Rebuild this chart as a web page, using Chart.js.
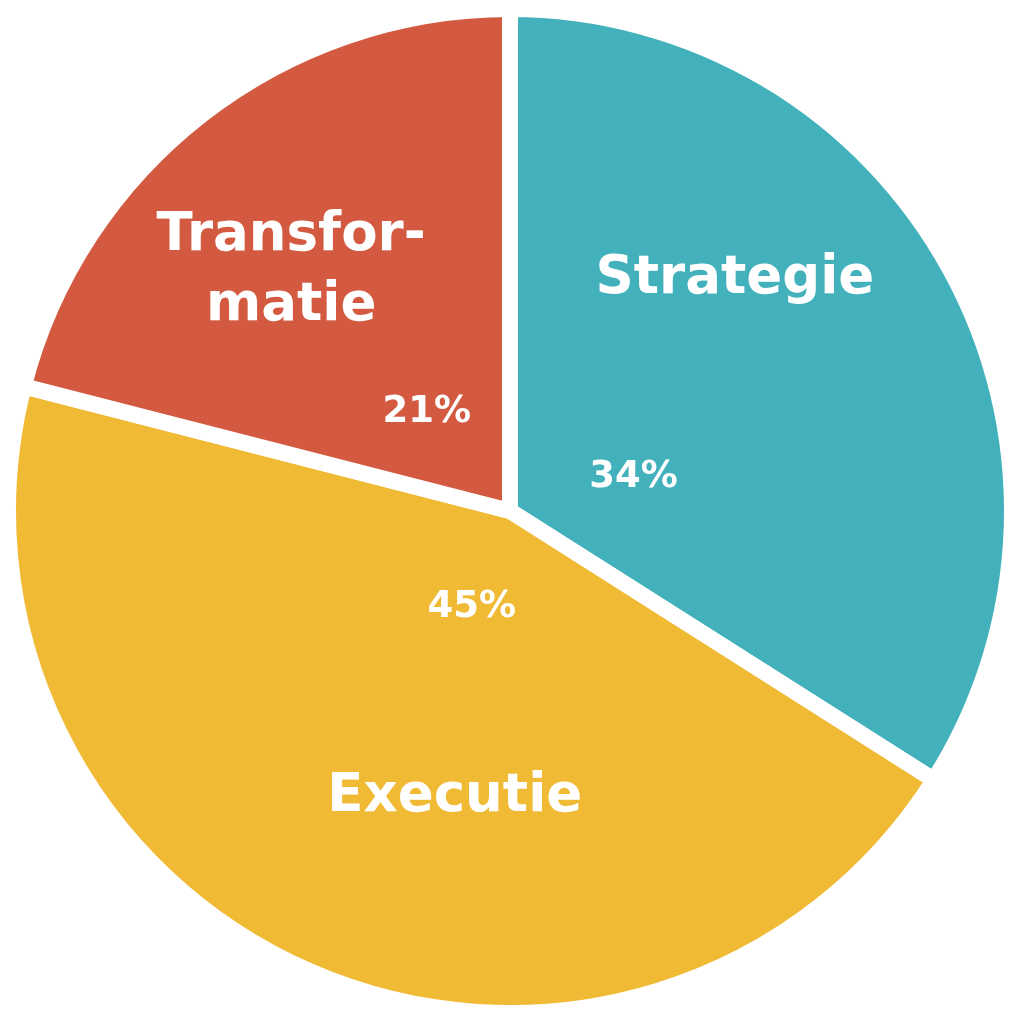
<!DOCTYPE html>
<html>
<head>
<meta charset="utf-8">
<script src="https://cdn.jsdelivr.net/npm/chart.js@4.4.0/dist/chart.umd.min.js"></script>
<style>
  html, body { margin: 0; padding: 0; background: #fff; }
  #wrap { width: 1024px; height: 1024px; }
</style>
</head>
<body>
<div id="wrap"><canvas id="pie"></canvas></div>
<script>
// data
const categories = ['Strategie', 'Executie', 'Transformatie'];
const shares = [34, 45, 21];
const nameLines = [['Strategie'], ['Executie'], ['Transfor-', 'matie']];
const colors = ['#42B1BB', '#F0BA35', '#D35A40'];

// where each label sits, as offset from the pie centre in units of radius
const nameSpot = [[0.448, -0.462], [-0.11, 0.57], [-0.436, -0.478]];
const pctSpot = [[0.246, -0.066], [-0.076, 0.192], [-0.166, -0.196]];

const labelPlugin = {
  id: 'sliceLabels',
  afterDatasetsDraw(chart) {
    const ctx = chart.ctx;
    const arc = chart.getDatasetMeta(0).data[0];
    const cx = arc.x, cy = arc.y, r = arc.outerRadius;
    ctx.save();
    ctx.fillStyle = '#fff';
    ctx.textAlign = 'center';
    ctx.textBaseline = 'middle';
    categories.forEach(function (c, i) {
      const lines = nameLines[i];
      ctx.font = 'bold 53px "DejaVu Sans"';
      const x = cx + nameSpot[i][0] * r;
      const y = cy + nameSpot[i][1] * r;
      const lh = 70;
      lines.forEach(function (t, k) {
        ctx.fillText(t, x, y + (k - (lines.length - 1) / 2) * lh);
      });
      ctx.font = 'bold 37px "DejaVu Sans"';
      ctx.fillText(shares[i] + '%', cx + pctSpot[i][0] * r, cy + pctSpot[i][1] * r);
    });
    ctx.restore();
  }
};

new Chart(document.getElementById('pie'), {
  type: 'pie',
  data: {
    labels: categories,
    datasets: [{
      data: shares,
      backgroundColor: colors,
      borderColor: '#fff',
      borderWidth: 16
    }]
  },
  options: {
    responsive: true,
    maintainAspectRatio: false,
    animation: false,
    layout: { padding: { left: 0, right: 4, top: 0, bottom: 2 } },
    plugins: {
      legend: { display: false },
      tooltip: { enabled: false }
    }
  },
  plugins: [labelPlugin]
});
</script>
</body>
</html>
